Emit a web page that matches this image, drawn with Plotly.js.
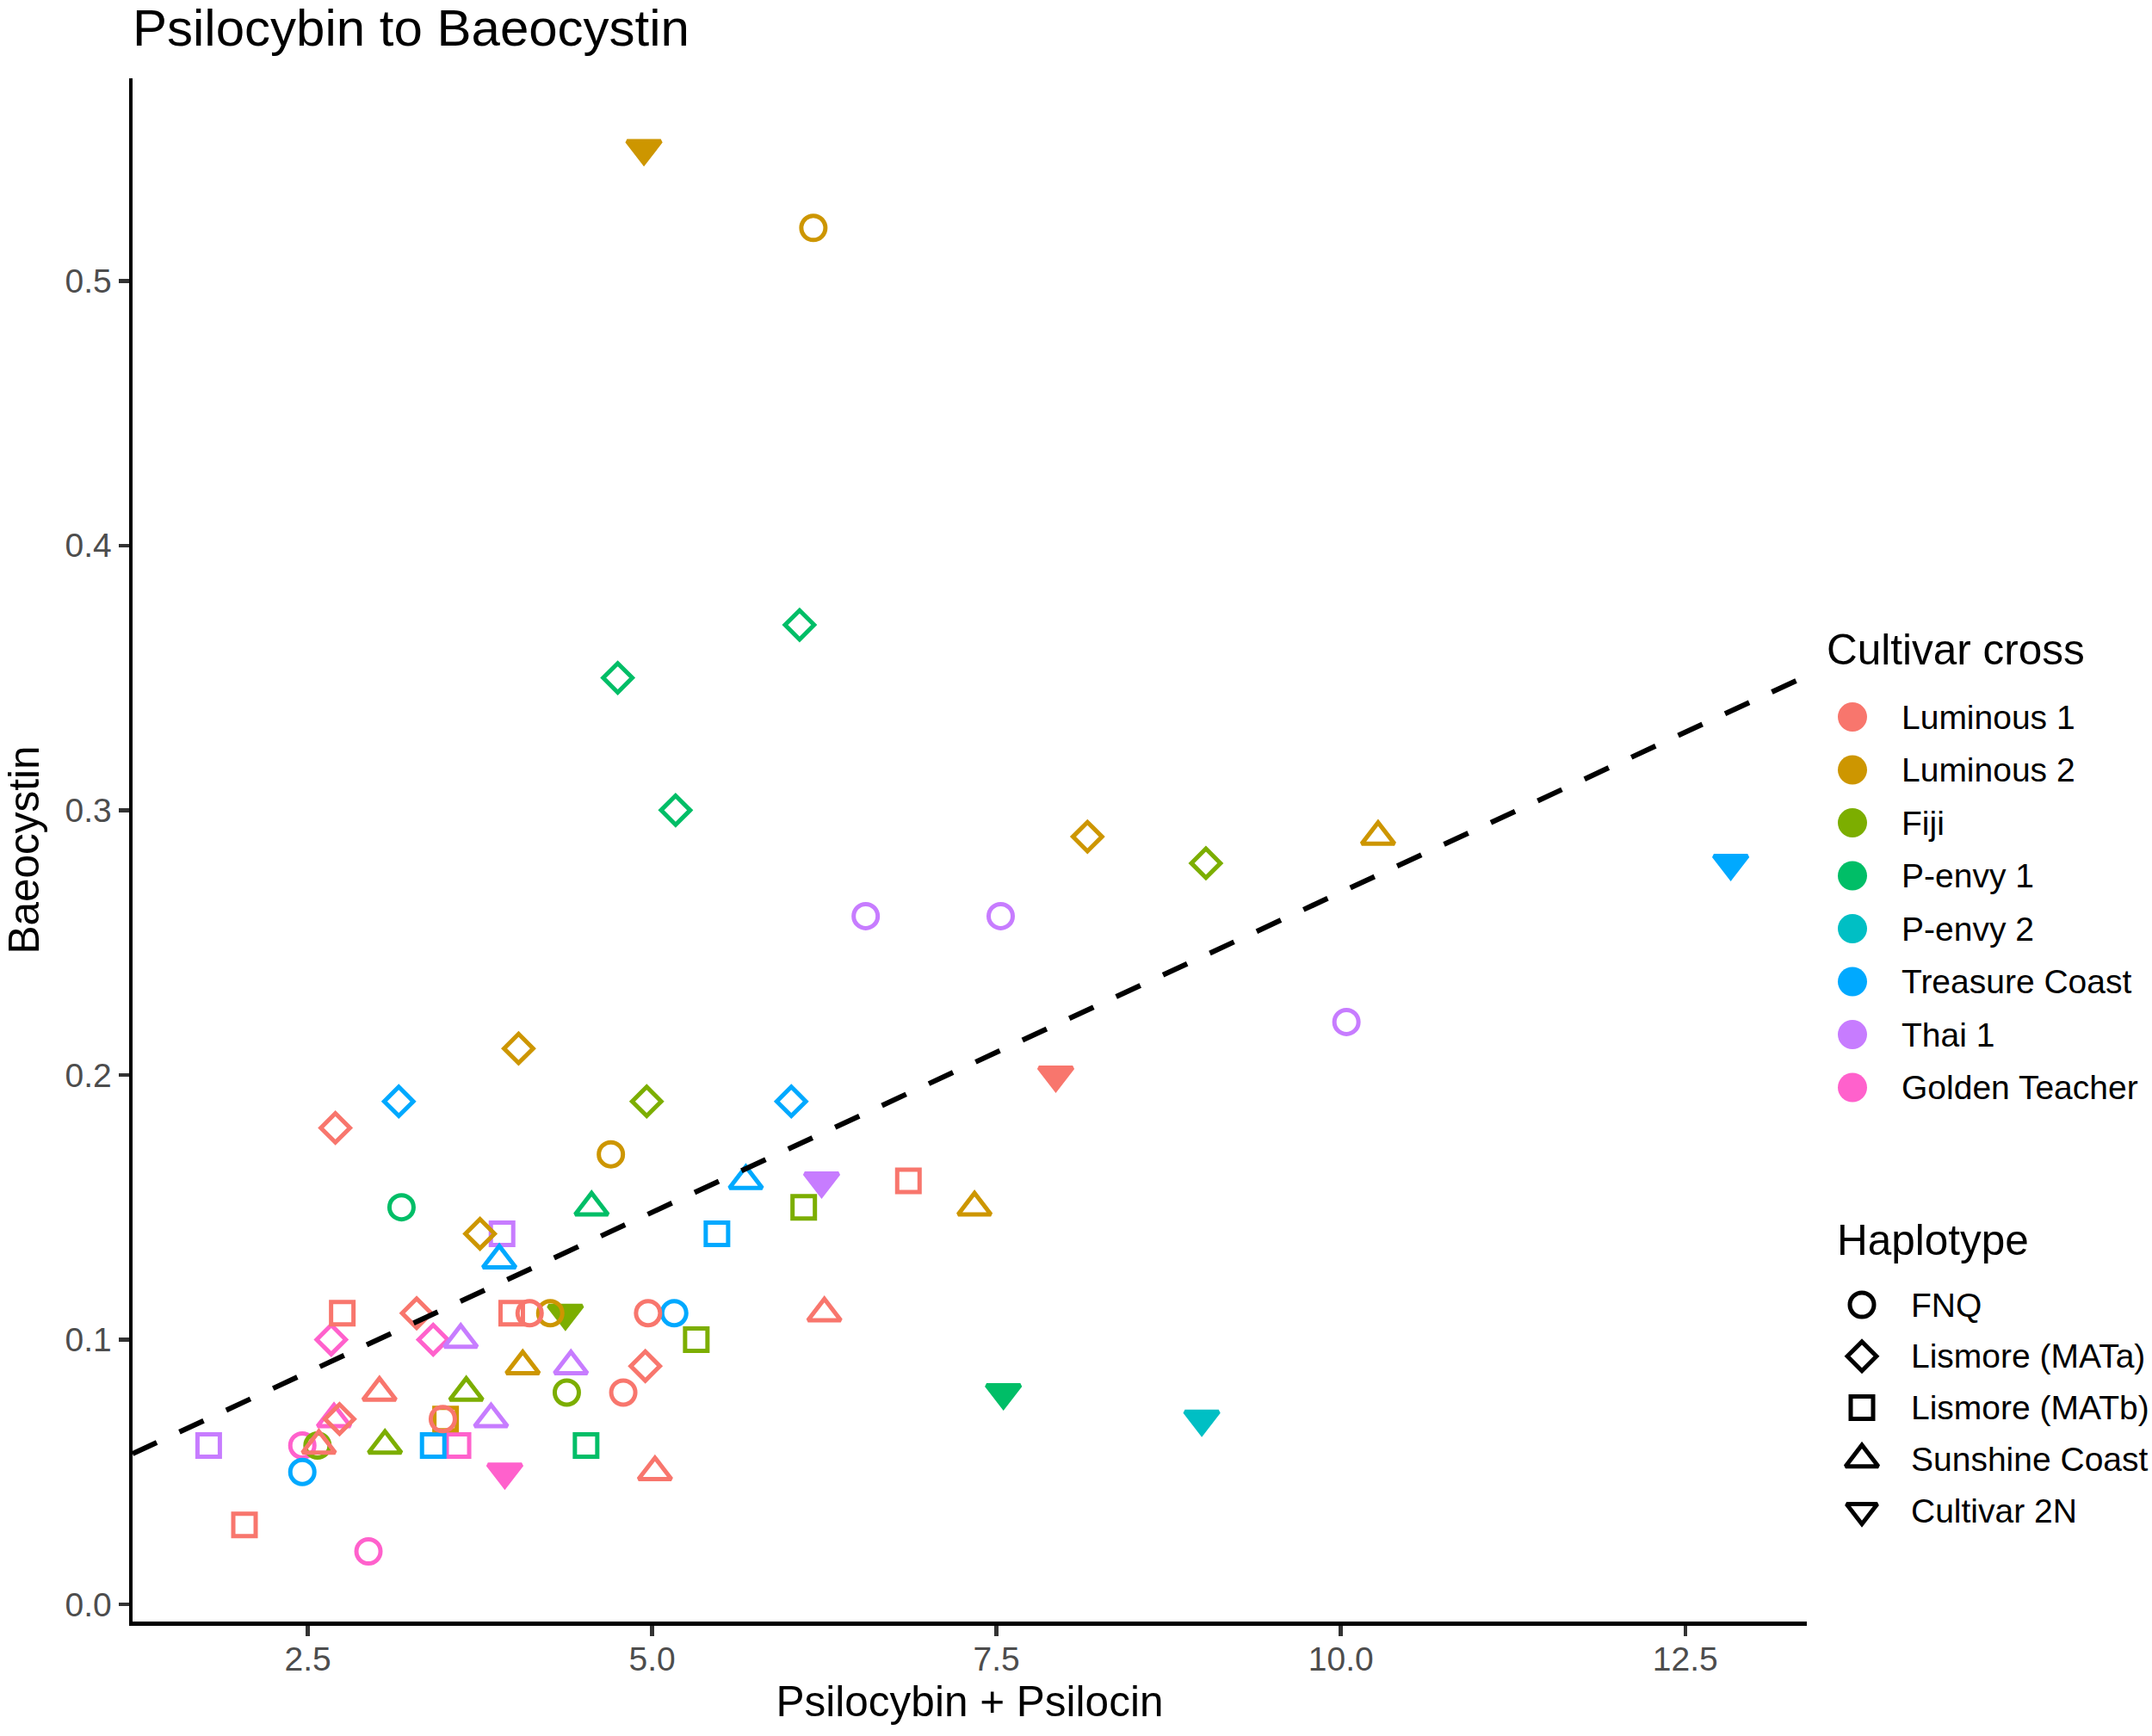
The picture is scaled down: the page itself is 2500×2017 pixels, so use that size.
<!DOCTYPE html>
<html>
<head>
<meta charset="utf-8">
<script src="https://cdn.plot.ly/plotly-3.0.1.min.js"></script>
<style>
  html, body { margin: 0; padding: 0; background: #fff; }
  #chart { width: 2500px; height: 2017px; }
</style>
</head>
<body>
<div id="chart"></div>
<script>
var crosses = ['Luminous 1', 'Luminous 2', 'Fiji', 'P-envy 1', 'P-envy 2', 'Treasure Coast', 'Thai 1', 'Golden Teacher'];
var haplotypes = ['FNQ', 'Lismore (MATa)', 'Lismore (MATb)', 'Sunshine Coast', 'Cultivar 2N'];

// one entry per sample: index into crosses / haplotypes
var sampleCross = [
	0, 0, 0, 0, 0, 0, 0, 0, 0, 0, 0, 0, 0, 0, 0, 0, 0,
	1, 1, 1, 1, 1, 1, 1, 1, 1, 1, 1,
	2, 2, 2, 2, 2, 2, 2, 2, 2,
	3, 3, 3, 3, 3, 3, 3,
	4,
	5, 5, 5, 5, 5, 5, 5, 5, 5,
	6, 6, 6, 6, 6, 6, 6, 6, 6,
	7, 7, 7, 7, 7, 7, 7
];
var sampleHaplotype = [
	0, 0, 0, 0, 1, 1, 1, 1, 2, 2, 2, 2, 3, 3, 3, 3, 4,
	0, 0, 0, 1, 1, 1, 2, 3, 3, 3, 4,
	0, 0, 1, 1, 2, 2, 3, 3, 4,
	0, 1, 1, 1, 2, 3, 4,
	4,
	0, 0, 1, 1, 2, 2, 3, 3, 4,
	0, 0, 0, 2, 2, 3, 3, 3, 4,
	0, 0, 1, 1, 2, 3, 4
];
var psiloTotal = [
	4.11, 4.97, 4.79, 3.48, 2.70, 3.29, 2.73, 4.95, 2.75, 3.98, 2.04, 6.86, 3.02, 2.58, 5.02, 6.25, 7.93,
	4.26, 4.70, 6.17, 3.75, 4.03, 8.16, 3.50, 4.06, 7.34, 10.27, 4.94,
	4.38, 2.57, 4.96, 9.02, 6.10, 5.32, 3.65, 3.06, 4.37,
	3.18, 6.07, 4.75, 5.17, 4.52, 4.56, 7.55,
	8.99,
	5.16, 2.46, 3.16, 6.01, 3.41, 5.47, 3.89, 5.68, 12.83,
	6.55, 7.53, 10.04, 3.91, 1.78, 3.61, 4.41, 3.83, 6.23,
	2.46, 2.94, 2.67, 3.41, 3.59, 2.69, 3.93
];
var baeocystin = [
	0.11, 0.11, 0.08, 0.07, 0.18, 0.11, 0.07, 0.09, 0.11, 0.11, 0.03, 0.16, 0.08, 0.06, 0.05, 0.11, 0.20,
	0.11, 0.17, 0.52, 0.14, 0.21, 0.29, 0.07, 0.09, 0.15, 0.29, 0.55,
	0.08, 0.06, 0.19, 0.28, 0.15, 0.10, 0.08, 0.06, 0.11,
	0.15, 0.37, 0.35, 0.30, 0.06, 0.15, 0.08,
	0.07,
	0.11, 0.05, 0.19, 0.19, 0.06, 0.14, 0.13, 0.16, 0.28,
	0.26, 0.26, 0.22, 0.14, 0.06, 0.10, 0.09, 0.07, 0.16,
	0.06, 0.02, 0.10, 0.10, 0.06, 0.07, 0.05
];

var xTickVals = [2.5, 5, 7.5, 10, 12.5];
var xTickText = ['2.5', '5.0', '7.5', '10.0', '12.5'];
var yTickVals = [0, 0.1, 0.2, 0.3, 0.4, 0.5];
var yTickText = ['0.0', '0.1', '0.2', '0.3', '0.4', '0.5'];

// styling
var crossColors = ['#F8766D', '#CD9600', '#7CAE00', '#00BE67', '#00BFC4', '#00A9FF', '#C77CFF', '#FF61CC'];
var symbolFor = ['circle-open', 'diamond-open', 'square-open', 'triangle-up-open', 'triangle-down'];
var keySymbolFor = ['circle-open', 'diamond-open', 'square-open', 'triangle-up-open', 'triangle-down-open'];
var sizeFor = [28, 26, 26, 33, 34];
var keySizeFor = [28, 26, 26, 33, 31];
var FONT = 'Liberation Sans, Arial, Helvetica, sans-serif';

// page geometry (px)
var W = 2500, H = 2017;
var plotL = 154, plotR = 2099, plotT = 91, plotB = 1884;
var mainEnd = (plotR - plotL) / (W - plotL);

// ggplot-like 5% expansion
function expand(v) {
	var lo = Math.min.apply(null, v), hi = Math.max.apply(null, v);
	var pad = (hi - lo) * 0.05;
	return [lo - pad, hi + pad];
}
var xRange = expand(psiloTotal);
var yRange = expand(baeocystin);

// least squares line
var n = psiloTotal.length, mx = 0, my = 0;
for (var i = 0; i < n; i++) { mx += psiloTotal[i] / n; my += baeocystin[i] / n; }
var sxy = 0, sxx = 0;
for (var i = 0; i < n; i++) {
	sxy += (psiloTotal[i] - mx) * (baeocystin[i] - my);
	sxx += (psiloTotal[i] - mx) * (psiloTotal[i] - mx);
}
var slope = sxy / sxx, intercept = my - slope * mx;

var data = [];
for (var c = crosses.length - 1; c >= 0; c--) {
	var xs = [], ys = [], syms = [], sizes = [], hov = [];
	for (var i = 0; i < n; i++) {
		if (sampleCross[i] !== c) continue;
		xs.push(psiloTotal[i]);
		ys.push(baeocystin[i]);
		syms.push(symbolFor[sampleHaplotype[i]]);
		sizes.push(sizeFor[sampleHaplotype[i]]);
		hov.push(haplotypes[sampleHaplotype[i]]);
	}
	data.push({
		type: 'scatter',
		mode: 'markers',
		name: crosses[c],
		x: xs,
		y: ys,
		text: hov,
		cliponaxis: false,
		marker: {
			color: crossColors[c],
			opacity: 1,
			symbol: syms,
			size: sizes,
			line: {color: crossColors[c], width: 5}
		}
	});
}
data.push({
	type: 'scatter',
	mode: 'lines',
	name: 'lm',
	x: xRange,
	y: xRange.map(function(v) { return intercept + slope * v; }),
	line: {color: 'black', width: 6, dash: '31px,29px'}
});

// legend keys drawn on a helper axis pair laid out in page pixels
var crossKeyX = 2152, crossTextX = 2207, crossTitleY = 754, crossY0 = 833, crossStep = 61.5;
var hapKeyX = 2163, hapTextX = 2218, hapTitleY = 1440, hapY0 = 1516, hapStep = 59.8;

data.push({
	type: 'scatter',
	mode: 'markers',
	xaxis: 'x2',
	yaxis: 'y2',
	x: crosses.map(function() { return crossKeyX; }),
	y: crosses.map(function(d, i) { return crossY0 + i * crossStep; }),
	cliponaxis: false,
	hoverinfo: 'skip',
	marker: {color: crossColors, opacity: 1, symbol: 'circle', size: 34}
});
data.push({
	type: 'scatter',
	mode: 'markers',
	xaxis: 'x2',
	yaxis: 'y2',
	x: haplotypes.map(function() { return hapKeyX; }),
	y: haplotypes.map(function(d, i) { return hapY0 + i * hapStep; }),
	cliponaxis: false,
	hoverinfo: 'skip',
	marker: {color: 'black', opacity: 1, symbol: keySymbolFor, size: keySizeFor, line: {color: 'black', width: 5}}
});

var annotations = [
	{text: 'Cultivar cross', x: 2120, y: crossTitleY, font: {size: 49.5}},
	{text: 'Haplotype', x: 2132, y: hapTitleY, font: {size: 49.5}}
];
crosses.forEach(function(name, i) {
	annotations.push({text: name, x: crossTextX, y: crossY0 + i * crossStep, font: {size: 39}});
});
haplotypes.forEach(function(name, i) {
	annotations.push({text: name, x: hapTextX, y: hapY0 + i * hapStep, font: {size: 39}});
});
annotations.forEach(function(a) {
	a.xref = 'x2';
	a.yref = 'y2';
	a.xanchor = 'left';
	a.yanchor = 'middle';
	a.showarrow = false;
	a.font.family = FONT;
	a.font.color = 'black';
});

var layout = {
	width: W,
	height: H,
	showlegend: false,
	paper_bgcolor: 'white',
	plot_bgcolor: 'white',
	font: {family: FONT, color: 'black'},
	margin: {l: plotL, r: 0, t: plotT, b: H - plotB, pad: 0},
	title: {
		text: 'Psilocybin to Baeocystin',
		font: {family: FONT, size: 60, color: 'black'},
		xref: 'paper',
		x: 0,
		xanchor: 'left',
		yref: 'container',
		y: 1 - 32 / H,
		yanchor: 'middle'
	},
	xaxis: {
		domain: [0, mainEnd],
		range: xRange,
		tickvals: xTickVals,
		ticktext: xTickText,
		showgrid: false,
		zeroline: false,
		showline: true,
		linecolor: 'black',
		linewidth: 4.5,
		ticks: 'outside',
		ticklen: 12,
		tickwidth: 4.5,
		tickcolor: '#333333',
		ticklabelstandoff: -6,
		tickfont: {family: FONT, size: 39, color: '#4D4D4D'},
		title: {text: 'Psilocybin + Psilocin', font: {family: FONT, size: 49.5, color: 'black'}, standoff: 12}
	},
	yaxis: {
		range: yRange,
		tickvals: yTickVals,
		ticktext: yTickText,
		showgrid: false,
		zeroline: false,
		showline: true,
		linecolor: 'black',
		linewidth: 4.5,
		ticks: 'outside',
		ticklen: 12,
		tickwidth: 4.5,
		tickcolor: '#333333',
		tickfont: {family: FONT, size: 39, color: '#4D4D4D'},
		title: {text: 'Baeocystin', font: {family: FONT, size: 49.5, color: 'black'}, standoff: 28}
	},
	xaxis2: {
		domain: [mainEnd, 1],
		range: [plotR, W],
		anchor: 'y2',
		visible: false,
		fixedrange: true
	},
	yaxis2: {
		domain: [0, 1],
		range: [plotB, plotT],
		anchor: 'x2',
		visible: false,
		fixedrange: true
	},
	annotations: annotations
};

Plotly.newPlot('chart', data, layout, {displayModeBar: false, staticPlot: true});
</script>
</body>
</html>
